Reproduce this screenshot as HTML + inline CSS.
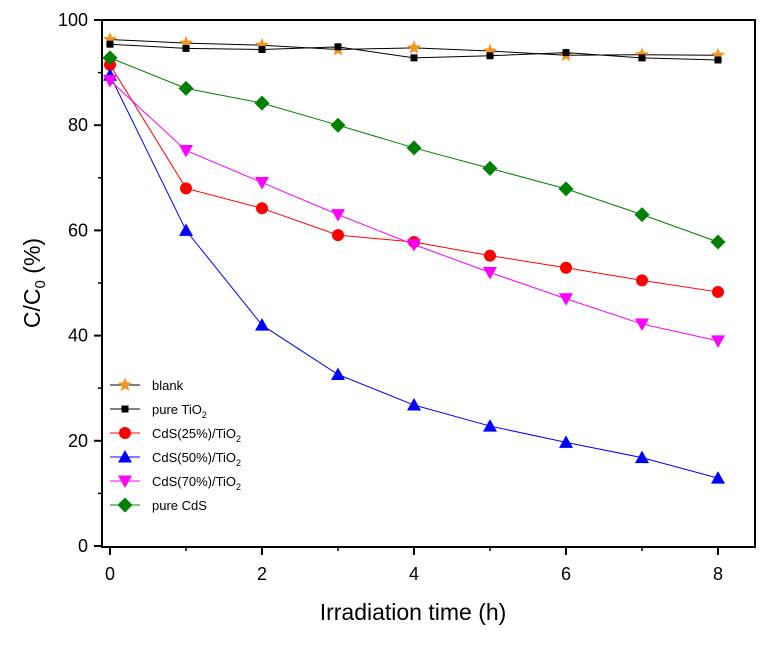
<!DOCTYPE html>
<html><head><meta charset="utf-8"><style>
body{margin:0;background:#fff}
svg{font-family:"Liberation Sans",Arial,sans-serif}
</style></head><body>
<svg id="c" width="768" height="641"></svg>
<script>
const hours=[0,1,2,3,4,5,6,7,8];
const blank=[96.3,95.6,95.2,94.4,94.7,94.1,93.3,93.4,93.3];
const tio2=[95.4,94.6,94.4,94.9,92.8,93.2,93.8,92.8,92.4];
const cds25=[91.5,68,64.2,59.1,57.8,55.2,52.9,50.5,48.3];
const cds50=[89.5,60,42,32.6,26.8,22.8,19.7,16.8,12.9];
const cds70=[88.5,75.2,69.1,63,57.3,52,47,42.2,39];
const cdsPure=[92.8,87,84.2,80,75.7,71.8,67.9,63,57.8];
const xTicks=[0,2,4,6,8];
const yTicks=[0,20,40,60,80,100];
const NS="http://www.w3.org/2000/svg";
const svg=document.getElementById('c');
const X=v=>110+v*76, Y=v=>546-v*5.26;
function el(t,a,p){const e=document.createElementNS(NS,t);for(const k in a)e.setAttribute(k,a[k]);(p||svg).appendChild(e);return e;}
function marker(type,x,y,color,p){
  let e;
  if(type==='star'){let pts=[];for(let i=0;i<10;i++){const r=i%2?3.2:7.5,a=-Math.PI/2+i*Math.PI/5;pts.push((x+r*Math.cos(a)).toFixed(1)+','+(y+r*Math.sin(a)).toFixed(1));}e=el('polygon',{points:pts.join(' '),fill:'#f7941d'},p);}
  else if(type==='sq')e=el('rect',{x:x-3.5,y:y-3.5,width:7,height:7,fill:'#000'},p);
  else if(type==='circ')e=el('circle',{cx:x,cy:y,r:6,fill:color},p);
  else if(type==='up')e=el('polygon',{points:`${x},${y-7} ${x+7},${y+5.5} ${x-7},${y+5.5}`,fill:color},p);
  else if(type==='down')e=el('polygon',{points:`${x},${y+7} ${x+7},${y-5.5} ${x-7},${y-5.5}`,fill:color},p);
  else e=el('polygon',{points:`${x},${y-7.5} ${x+7.5},${y} ${x},${y+7.5} ${x-7.5},${y}`,fill:color},p);
  return e;
}
const fr=el('rect',{x:102,y:20,width:653,height:527,fill:'none',stroke:'#000','stroke-width':2});

xTicks.forEach(t=>{
  el('line',{x1:X(t),x2:X(t),y1:547,y2:555,stroke:'#000','stroke-width':2});
  if(t<8)el('line',{x1:X(t+1),x2:X(t+1),y1:547,y2:551,stroke:'#000','stroke-width':1.5});
  const tx=el('text',{x:X(t),y:580,'font-size':18,'text-anchor':'middle'});tx.textContent=t;
  
});
yTicks.forEach(t=>{
  el('line',{x1:94,x2:102,y1:Y(t),y2:Y(t),stroke:'#000','stroke-width':2});
  if(t<100)el('line',{x1:98,x2:102,y1:Y(t+10),y2:Y(t+10),stroke:'#000','stroke-width':1.5});
  const tx=el('text',{x:88,y:Y(t)+6,'font-size':18,'text-anchor':'end'});tx.textContent=t;
  
});
const xl=el('text',{x:413,y:620,'font-size':23,'text-anchor':'middle'});xl.textContent='Irradiation time (h)';

const yl=el('text',{transform:'translate(40,283) rotate(-90)','font-size':23,'text-anchor':'middle'});
yl.innerHTML='C/C<tspan font-size="15" dy="5">0</tspan><tspan dy="-5"> (%)</tspan>';

const series=[
 {n:'blank',d:blank,c:'#000',m:'star',lc:'#000',lab:'blank'},
 {n:'pure-tio2',d:tio2,c:'#000',m:'sq',lc:'#000',lab:'pure TiO'},
 {n:'cds25',d:cds25,c:'#ff0000',m:'circ',lc:'#ff0000',lab:'CdS(25%)/TiO'},
 {n:'cds50',d:cds50,c:'#0000ff',m:'up',lc:'#0000ff',lab:'CdS(50%)/TiO'},
 {n:'cds70',d:cds70,c:'#ff00ff',m:'down',lc:'#ff00ff',lab:'CdS(70%)/TiO'},
 {n:'pure-cds',d:cdsPure,c:'#008000',m:'dia',lc:'#008000',lab:'pure CdS'}];
series.forEach(s=>{
  const g=el('g',{});
  
  el('polyline',{points:s.d.map((v,i)=>X(hours[i])+','+Y(v)).join(' '),fill:'none',stroke:s.lc,'stroke-width':1},g);
  s.d.forEach((v,i)=>{const m=marker(s.m,X(hours[i]),Y(v),s.c,g);
    });
});
series.forEach((s,i)=>{
  const y=385+i*24;
  const g=el('g',{});
  
  el('line',{x1:110,x2:140,y1:y,y2:y,stroke:s.lc,'stroke-width':1},g);
  marker(s.m,125,y,s.c,g);
  const t=el('text',{x:152,y:y+5,'font-size':13},g);
  if(s.lab.endsWith('TiO'))t.innerHTML=s.lab+'<tspan font-size="9" dy="4">2</tspan>';
  else t.textContent=s.lab;
});
</script>
</body></html>
